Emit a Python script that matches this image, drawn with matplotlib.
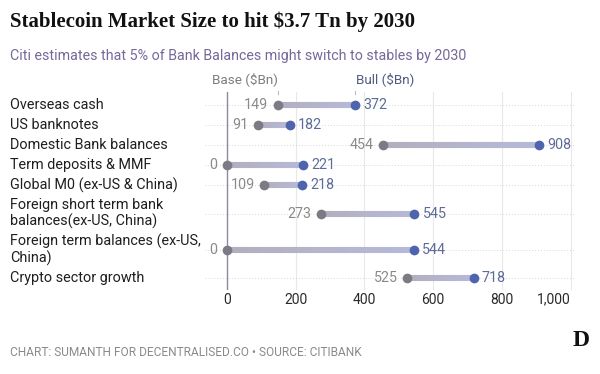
import numpy as np
import matplotlib.pyplot as plt
from matplotlib.collections import LineCollection
from matplotlib.colors import to_rgb
from matplotlib.transforms import blended_transform_factory

categories = [
    "Overseas cash",
    "US banknotes",
    "Domestic Bank balances",
    "Term deposits & MMF",
    "Global M0 (ex-US & China)",
    "Foreign short term bank\nbalances(ex-US, China)",
    "Foreign term balances (ex-US,\nChina)",
    "Crypto sector growth",
]
base = [149, 91, 454, 0, 109, 273, 0, 525]
bull = [372, 182, 908, 221, 218, 545, 544, 718]
x_ticks = [0, 200, 400, 600, 800, 1000]
x_tick_labels = ["0", "200", "400", "600", "800", "1,000"]

FONT = "Roboto"
BASE_C = "#7e7a85"
BULL_C = "#4e64ad"
LINE_BASE = "#b2afbd"
LINE_BULL = "#b6b9d9"

# row heights: wrapped labels need more room
heights = [20 + 16 * (c.count("\n")) for c in categories]
centers = []
pos = 0
for i, h in enumerate(heights):
    if i > 0:
        pos += heights[i - 1] / 2 + h / 2
    centers.append(pos)

fig = plt.figure(figsize=(6.0, 3.74), dpi=100)
ax = fig.add_axes([205 / 600, 1 - 290 / 374, 370 / 600, 198 / 374])
ax.set_xlim(-64, 1013)
ax.set_ylim(centers[-1] + 12, centers[0] - 13)

for s in ax.spines.values():
    s.set_visible(False)
ax.tick_params(left=False, labelleft=False, bottom=False, length=0)
ax.set_xticks(x_ticks)
ax.set_xticklabels(x_tick_labels, fontsize=10, color="#2a2a2a", family=FONT)
for lab in ax.get_xticklabels():
    if lab.get_text() == "1,000":
        lab.set_horizontalalignment("right")
ax.tick_params(axis="x", pad=2)

for t in x_ticks[1:]:
    ax.axvline(t, color="#e8e8e8", lw=0.8, zorder=0)
for y in centers:
    ax.axhline(y, color="#d8d8d8", lw=0.7, ls=(0, (1, 2)), zorder=0)
ax.axvline(0, color="#8e88a4", lw=1.0, zorder=1)

c0 = np.array(to_rgb(LINE_BASE))
c1 = np.array(to_rgb(LINE_BULL))
n = 40
for b, u, y in zip(base, bull, centers):
    xs = np.linspace(b, u, n + 1)
    segs = [[(xs[k], y), (xs[k + 1], y)] for k in range(n)]
    cols = [c0 + (c1 - c0) * k / (n - 1) for k in range(n)]
    lc = LineCollection(segs, colors=cols, linewidths=4.4, capstyle="butt", zorder=2)
    ax.add_collection(lc)
    ax.plot(b, y, "o", color=BASE_C, ms=7, mec="none", zorder=3)
    ax.plot(u, y, "o", color=BULL_C, ms=7, mec="none", zorder=3)
    ax.annotate(str(b), (b, y), xytext=(-7, 0), textcoords="offset points",
                ha="right", va="center", fontsize=10.3, color="#8a8a8a", family=FONT)
    ax.annotate(str(u), (u, y), xytext=(6, 0), textcoords="offset points",
                ha="left", va="center", fontsize=10.3, color="#5d6b99", family=FONT)

# column headers above first row
ax.annotate("Base ($Bn)", (base[0], centers[0]), xytext=(0, 19), textcoords="offset points",
            ha="right", va="center", fontsize=9.7, color="#7d7d7d", family=FONT,
            annotation_clip=False)
ax.annotate("Bull ($Bn)", (bull[0], centers[0]), xytext=(1, 19), textcoords="offset points",
            ha="left", va="center", fontsize=9.7, color="#4f5c82", family=FONT,
            annotation_clip=False)
for xv in (base[0], bull[0]):
    ax.plot([xv, xv], [centers[0] - 14, centers[0] - 11], color="#bbbbbb", lw=0.8,
            clip_on=False)

tr = blended_transform_factory(fig.transFigure, ax.transData)
for cat, y in zip(categories, centers):
    ax.text(10 / 600, y, cat, transform=tr, ha="left", va="center", fontsize=10.4,
            color="#1e1e1e", family=FONT, linespacing=1.15)

fig.text(10 / 600, 1 - 22 / 374, "Stablecoin Market Size to hit $3.7 Tn by 2030",
         fontsize=15, fontweight="bold", family="Liberation Serif", color="#111111",
         va="center", ha="left")
fig.text(10 / 600, 1 - 56 / 374,
         "Citi estimates that 5% of Bank Balances might switch to stables by 2030",
         fontsize=10.3, family=FONT, color="#76689a", va="center", ha="left")
fig.text(10 / 600, 1 - 353 / 374,
         "CHART: SUMANTH FOR DECENTRALISED.CO \u2022 SOURCE: CITIBANK",
         fontsize=8.6, family=FONT, color="#8a8a8a", va="center", ha="left")
fig.text(581 / 600, 1 - 340 / 374, "D", fontsize=17, fontweight="bold",
         family="Liberation Serif", color="#111111", va="center", ha="center")

fig.savefig("out.png", dpi=100)
